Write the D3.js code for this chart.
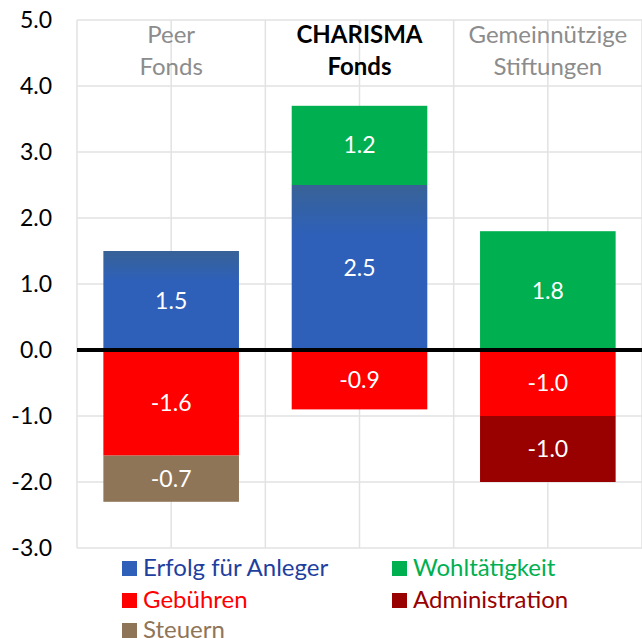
<!DOCTYPE html>
<html>
<head>
<meta charset="utf-8">
<script src="https://cdn.jsdelivr.net/npm/d3@7"></script>
<style>
  body { margin: 0; background: #fff; }
  svg { display: block; font-family: Lato, "Open Sans", sans-serif; }
</style>
</head>
<body>
<svg width="642" height="638"></svg>
<script>
// categories (header labels, split in two lines)
var categories = ["Peer Fonds", "CHARISMA Fonds", "Gemeinnützige Stiftungen"];
var catLines = [["Peer", "Fonds"], ["CHARISMA", "Fonds"], ["Gemeinnützige", "Stiftungen"]];

// series values
var erfolg = [1.5, 2.5, 0];
var gebuehren = [-1.6, -0.9, -1.0];
var steuern = [-0.7, 0, 0];
var wohltaetigkeit = [0, 1.2, 1.8];
var administration = [0, 0, -1.0];

var seriesNames = ["Erfolg für Anleger", "Gebühren", "Steuern", "Wohltätigkeit", "Administration"];
var seriesColors = ["#2E60B9", "#FF0000", "#8F7558", "#00B050", "#990000"];
var legendTextColors = ["#1F3F9F", "#FF0000", "#8F7558", "#00B050", "#990000"];

var yTicks = [-3, -2, -1, 0, 1, 2, 3, 4, 5];

/////////////////////////////////////////
var svg = d3.select("svg");
var plotL = 77, plotR = 642, plotT = 20, plotB = 548;
var fmt = d3.formatLocale({decimal: ".", thousands: ",", grouping: [3], currency: ["", ""], minus: "-"}).format(".1f");

var table = categories.map(function(c, i) {
    return {
        cat: c,
        "Erfolg für Anleger": erfolg[i],
        "Gebühren": gebuehren[i],
        "Steuern": steuern[i],
        "Wohltätigkeit": wohltaetigkeit[i],
        "Administration": administration[i]
    };
});

var stacked = d3.stack()
    .keys(seriesNames)
    .offset(d3.stackOffsetDiverging)(table);

var x = d3.scaleBand().domain(categories).range([plotL, plotR]).paddingInner(0).paddingOuter(0);
var y = d3.scaleLinear().domain([-3, 5]).range([plotB, plotT]);
var barW = x.bandwidth() * 0.72;

// blue gradient
var grad = svg.append("defs").append("linearGradient")
    .attr("id", "blueGrad").attr("x1", 0).attr("y1", 0).attr("x2", 0).attr("y2", 1);
grad.append("stop").attr("offset", 0).attr("stop-color", "#386296");
grad.append("stop").attr("offset", 0.3).attr("stop-color", "#2E60B9");
grad.append("stop").attr("offset", 1).attr("stop-color", "#2E60B9");

// gridlines
var grid = svg.append("g").attr("stroke", "#e2e2e2").attr("stroke-width", 1.5);
grid.selectAll(".h").data(yTicks).enter().append("line")
    .attr("x1", plotL).attr("x2", plotR)
    .attr("y1", function(d) { return y(d); }).attr("y2", function(d) { return y(d); });
var vx = [];
categories.forEach(function(c) { vx.push(x(c)); vx.push(x(c) + x.bandwidth() / 2); });
vx.push(plotR);
grid.selectAll(".v").data(vx).enter().append("line")
    .attr("x1", function(d) { return d; }).attr("x2", function(d) { return d; })
    .attr("y1", plotT).attr("y2", plotB);

// y axis labels
var yAxis = svg.append("g")
    .attr("transform", "translate(" + plotL + ",0)")
    .call(d3.axisLeft(y).tickValues(yTicks).tickSize(0).tickPadding(25).tickFormat(fmt));
yAxis.select(".domain").remove();
yAxis.selectAll("text").attr("font-size", 23).attr("fill", "#000").attr("font-family", "Lato, sans-serif");

// bars
var layers = svg.selectAll(".layer").data(stacked).enter().append("g")
    .attr("fill", function(d, i) { return i === 0 ? "url(#blueGrad)" : seriesColors[i]; });

layers.selectAll("rect").data(function(d) { return d; }).enter().append("rect")
    .filter(function(d) { return d[1] - d[0] !== 0; })
    .attr("x", function(d) { return x(d.data.cat) + (x.bandwidth() - barW) / 2; })
    .attr("width", barW)
    .attr("y", function(d) { return y(d[1]); })
    .attr("height", function(d) { return y(d[0]) - y(d[1]); });

// value labels
stacked.forEach(function(s) {
    s.forEach(function(d) {
        var v = d[1] - d[0];
        if (v === 0) return;
        var val = d.data[s.key];
        svg.append("text")
            .attr("x", x(d.data.cat) + x.bandwidth() / 2)
            .attr("y", (y(d[0]) + y(d[1])) / 2)
            .attr("dy", "0.35em")
            .attr("text-anchor", "middle")
            .attr("font-size", 23)
            .attr("fill", "#fff")
            .text(fmt(val));
    });
});

// zero line
svg.append("line")
    .attr("x1", plotL).attr("x2", plotR)
    .attr("y1", y(0)).attr("y2", y(0))
    .attr("stroke", "#000").attr("stroke-width", 4);

// header labels
categories.forEach(function(c, i) {
    var t = svg.append("text")
        .attr("x", x(c) + x.bandwidth() / 2)
        .attr("y", 43)
        .attr("text-anchor", "middle")
        .attr("font-size", 24)
        .attr("font-weight", i === 1 ? "bold" : "normal")
        .attr("fill", i === 1 ? "#000" : "#8c8c8c");
    catLines[i].forEach(function(line, j) {
        t.append("tspan").attr("x", x(c) + x.bandwidth() / 2).attr("dy", j === 0 ? 0 : 32).text(line);
    });
});

// legend
var legendPos = [[122, 576], [122, 608], [122, 638], [392, 576], [392, 608]];
var legend = svg.selectAll(".legend").data(seriesNames).enter().append("g")
    .attr("transform", function(d, i) { return "translate(" + legendPos[i][0] + "," + legendPos[i][1] + ")"; });
legend.append("rect")
    .attr("x", 0).attr("y", -15).attr("width", 15).attr("height", 15)
    .attr("fill", function(d, i) { return seriesColors[i]; });
legend.append("text")
    .attr("x", 21).attr("y", 0)
    .attr("font-size", 24)
    .attr("fill", function(d, i) { return legendTextColors[i]; })
    .text(function(d) { return d; });
</script>
</body>
</html>
